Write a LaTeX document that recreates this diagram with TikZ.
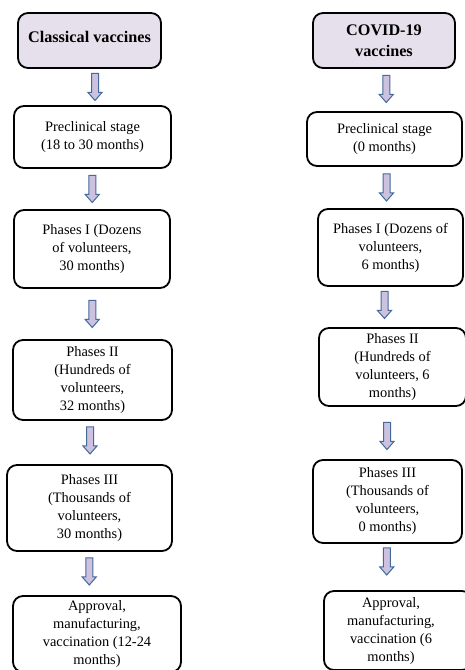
\documentclass[tikz,border=0pt]{standalone}
\usepackage{fontspec}
\setmainfont{Liberation Serif}
\usetikzlibrary{calc}
\definecolor{headfill}{RGB}{230,224,236}
\definecolor{arrowfill}{RGB}{204,193,222}
\definecolor{arrowline}{RGB}{68,106,156}
\tikzset{
  box/.style={draw=black, line width=1.8pt, rounded corners=10pt, align=center, inner sep=0pt,
    font=\fontsize{14.4}{18}\selectfont},
  headbox/.style={box, fill=headfill, font=\fontsize{16.2}{21}\selectfont\bfseries},
  barrow/.pic={\draw[draw=arrowline, fill=arrowfill, line width=1pt, line join=miter]
    (-3.5,13.5) -- (3.5,13.5) -- (3.5,-5.5) -- (7,-5.5) -- (0,-13.5) -- (-7,-5.5) -- (-3.5,-5.5) -- cycle;}
}
\newcommand{\shiftedtext}[2]{\raisebox{#1}{\begin{tabular}{@{}c@{}}#2\end{tabular}}}
\begin{document}
\begin{tikzpicture}[x=1pt,y=1pt]
\useasboundingbox[fill=white] (0,0) rectangle (464,670);
% left column
\node[headbox, minimum width=143pt, minimum height=55pt] (L0) at (89.5,629.5) {\raisebox{7.5pt}{Classical vaccines}};
\node[box, minimum width=157pt, minimum height=62pt] (L1) at (92.5,533) {\shiftedtext{3pt}{Preclinical stage\\(18 to 30 months)}};
\node[box, minimum width=156pt, minimum height=78pt] (L2) at (92,421) {Phases I (Dozens\\of volunteers,\\30 months)};
\node[box, minimum width=159pt, minimum height=80pt] (L3) at (92.5,290) {Phases II\\(Hundreds of\\volunteers,\\32 months)};
\node[box, minimum width=165pt, minimum height=86pt] (L4) at (89.5,162) {Phases III\\(Thousands of\\volunteers,\\30 months)};
\node[box, minimum width=168pt, minimum height=76pt] (L5) at (97,36) {Approval,\\manufacturing,\\vaccination (12-24\\months)};
% right column
\node[headbox, minimum width=142pt, minimum height=55pt] (R0) at (384,629.5) {COVID-19\\vaccines};
\node[box, minimum width=155pt, minimum height=54pt] (R1) at (384.5,531) {\shiftedtext{5pt}{Preclinical stage\\(0 months)}};
\node[box, minimum width=145pt, minimum height=77pt] (R2) at (390.5,422.5) {\shiftedtext{-4pt}{Phases I (Dozens of\\volunteers,\\6 months)}};
\node[box, minimum width=147pt, minimum height=78pt] (R3) at (392.5,303) {Phases II\\(Hundreds of\\volunteers, 6\\months)};
\node[box, minimum width=149pt, minimum height=83pt] (R4) at (387.5,168.5) {Phases III\\(Thousands of\\volunteers,\\0 months)};
\node[box, minimum width=148pt, minimum height=79pt] (R5) at (398,39.5) {\hspace*{-14pt}\shiftedtext{0pt}{Approval,\\manufacturing,\\vaccination (6\\months)}};
% arrow positions between boxes
\coordinate (la1) at ($(L0.south)!0.5!(L1.north)$);
\coordinate (la2) at ($(L1.south)!0.5!(L2.north)$);
\coordinate (la3) at ($(L2.south)!0.5!(L3.north)$);
\coordinate (la4) at ($(L3.south)!0.5!(L4.north)$);
\coordinate (la5) at ($(L4.south)!0.5!(L5.north)$);
\coordinate (ra1) at ($(R0.south)!0.5!(R1.north)$);
\coordinate (ra2) at ($(R1.south)!0.5!(R2.north)$);
\coordinate (ra3) at ($(R2.south)!0.5!(R3.north)$);
\coordinate (ra4) at ($(R3.south)!0.5!(R4.north)$);
\coordinate (ra5) at ($(R4.south)!0.5!(R5.north)$);
\pic at ([xshift=4pt]la1) {barrow};
\pic at (la2) {barrow};
\pic at (la3) {barrow};
\pic at ([xshift=-1pt,yshift=2pt]la4) {barrow};
\pic at ([xshift=-4pt,yshift=2pt]la5) {barrow};
\pic at ([xshift=2pt,yshift=1pt]ra1) {barrow};
\pic at ([xshift=-1pt]ra2) {barrow};
\pic at ([xshift=-7pt,yshift=2pt]ra3) {barrow};
\pic at ([xshift=-3pt,yshift=-3pt]ra4) {barrow};
\pic at ([xshift=-6pt,yshift=5.5pt]ra5) {barrow};
\end{tikzpicture}
\end{document}
